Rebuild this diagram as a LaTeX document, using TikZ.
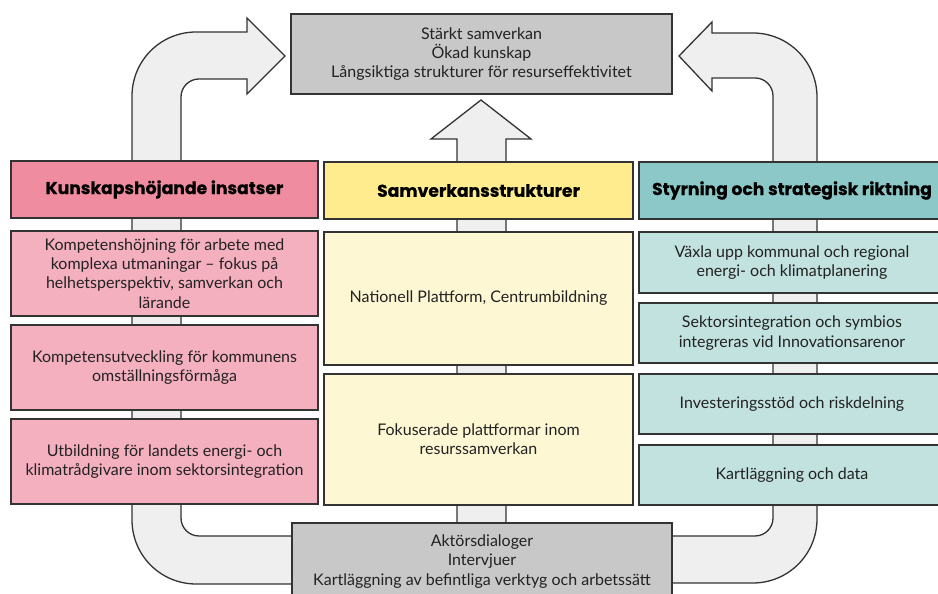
\documentclass[tikz,border=0pt]{standalone}
\usepackage{fontspec}
\setmainfont{Lato}
\newfontfamily\headfont{Poppins}[BoldFeatures={FakeBold=0.5}]
\definecolor{lhead}{HTML}{F08CA0}
\definecolor{lbox}{HTML}{F5B0C0}
\definecolor{mhead}{HTML}{FEEC8E}
\definecolor{mbox}{HTML}{FEF7D4}
\definecolor{rhead}{HTML}{8CC8C8}
\definecolor{rbox}{HTML}{C2E2E0}
\definecolor{graybox}{HTML}{C8C8C8}
\definecolor{band}{HTML}{EFEFEF}
\definecolor{edge}{HTML}{333333}
\definecolor{ink}{HTML}{222222}
\tikzset{
  box/.style={draw=edge, line width=1.3pt, rectangle, inner sep=2pt, align=center,
    text=ink, font=\fontsize{16}{19.3}\selectfont},
  headbox/.style={box, font=\headfont\bfseries\fontsize{17.2}{20}\selectfont, text=black},
  bandshape/.style={draw=edge, fill=band, line width=1.3pt, line join=miter},
}
\begin{document}
\begin{tikzpicture}[x=1pt,y=1pt]
\useasboundingbox (0,0) rectangle (938,594);
\clip (0,0) rectangle (938,594);
\def\Ri{18}
\def\Ro{64}
% named anchor points for the block arrows
\coordinate (ltip) at (285,538);
\coordinate (rtip) at (679,538);
\coordinate (mtip) at (481,494);
% left bent band
\draw[bandshape] (300,58) -- ({181+\Ri},58) arc (270:180:\Ri) -- (181,{515-\Ri})
  arc (180:90:\Ri) -- (247,515) -- (247,500) -- (ltip) -- (247,576) -- (247,562)
  -- ({132+\Ro},562) arc (90:180:\Ro) -- (132,{10+\Ro}) arc (180:270:\Ro) -- (300,10) -- cycle;
% right bent band
\draw[bandshape] (665,58) -- ({773-\Ri},58) arc (270:360:\Ri) -- (773,{516-\Ri})
  arc (0:90:\Ri) -- (712,516) -- (712,503) -- (rtip) -- (712,572) -- (712,561)
  -- ({817-\Ro},561) arc (90:0:\Ro) -- (817,{11+\Ro}) arc (0:-90:\Ro) -- (665,11) -- cycle;
% middle up arrow
\draw[bandshape] (457,60) -- (457,455) -- (431,455) -- (mtip) -- (531,455) -- (506,455) -- (506,60) -- cycle;

% top and bottom boxes
\node[box, fill=graybox, minimum width=381pt, minimum height=80pt] (top) at (481.5,540)
  {Stärkt samverkan\\Ökad kunskap\\Långsiktiga strukturer för resurseffektivitet};
\node[box, fill=graybox, minimum width=380pt, minimum height=77pt] (bot) at (482,32.5)
  {Aktörsdialoger\\Intervjuer\\Kartläggning av befintliga verktyg och arbetssätt};

% left column
\node[headbox, fill=lhead, minimum width=307pt, minimum height=57pt] (lh) at (164.5,404.5) {Kunskapshöjande insatser};
\node[box, fill=lbox, minimum width=307pt, minimum height=85pt] (l1) at (164.5,320.5)
  {Kompetenshöjning för arbete med\\komplexa utmaningar – fokus på\\helhetsperspektiv, samverkan och\\lärande};
\node[box, fill=lbox, minimum width=307pt, minimum height=85pt] (l2) at (164.5,226.5)
  {Kompetensutveckling för kommunens\\omställningsförmåga};
\node[box, fill=lbox, minimum width=307pt, minimum height=85pt] (l3) at (164.5,132.5)
  {Utbildning för landets energi- och\\klimatrådgivare inom sektorsintegration};

% middle column
\node[headbox, fill=mhead, minimum width=309pt, minimum height=57pt] (mh) at (478.5,403.5) {Samverkansstrukturer};
\node[box, fill=mbox, minimum width=309pt, minimum height=133pt] (m1) at (478.5,295.5)
  {Nationell Plattform, Centrumbildning};
\node[box, fill=mbox, minimum width=309pt, minimum height=131pt] (m2) at (478.5,154.5)
  {Fokuserade plattformar inom\\resurssamverkan};

% right column
\node[headbox, fill=rhead, minimum width=306pt, minimum height=57pt] (rh) at (792,403.5) {Styrning och strategisk riktning};
\node[box, fill=rbox, minimum width=306pt, minimum height=61pt] (r1) at (792,331.5)
  {Växla upp kommunal och regional\\energi- och klimatplanering};
\node[box, fill=rbox, minimum width=306pt, minimum height=60pt] (r2) at (792,261)
  {Sektorsintegration och symbios\\integreras vid Innovationsarenor};
\node[box, fill=rbox, minimum width=306pt, minimum height=60pt] (r3) at (792,190)
  {Investeringsstöd och riskdelning};
\node[box, fill=rbox, minimum width=306pt, minimum height=60pt] (r4) at (792,119)
  {Kartläggning och data};
\end{tikzpicture}
\end{document}
